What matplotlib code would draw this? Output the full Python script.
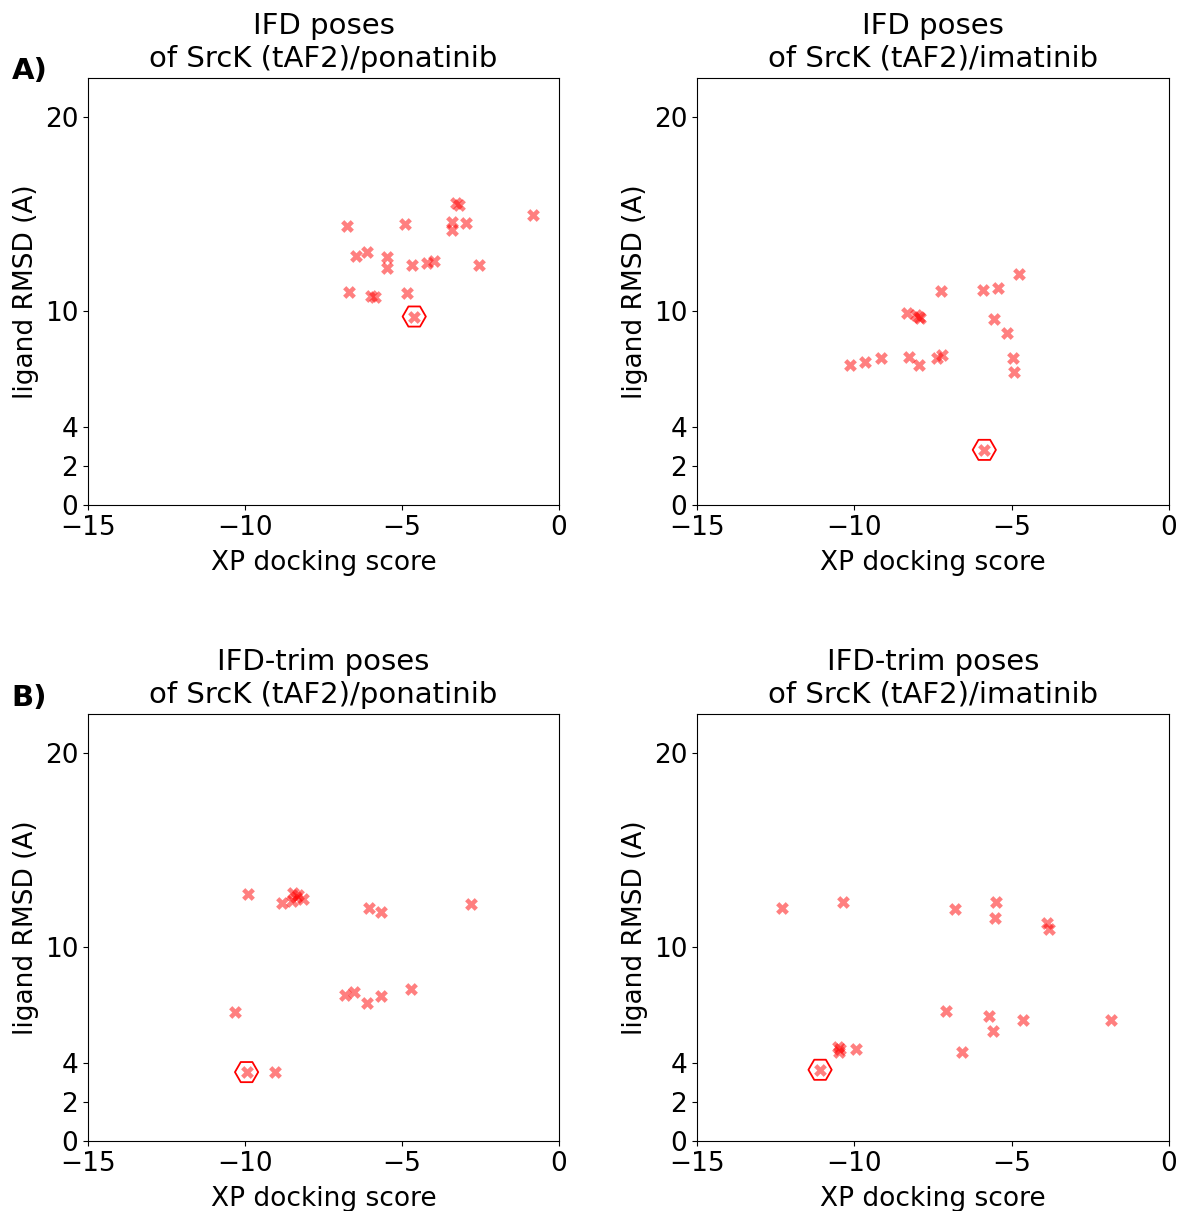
import numpy as np
import matplotlib
matplotlib.use("Agg")
import matplotlib.pyplot as plt

# ---------- Data ----------
# A) IFD poses, ponatinib
ifd_pon_x = [-6.76, -4.90, -3.27, -3.19, -3.42, -3.42, -2.96, -0.84, -6.47, -6.10,
             -5.47, -5.47, -4.69, -4.21, -3.97, -2.55, -6.68, -6.00, -5.86, -4.83]
ifd_pon_y = [14.35, 14.47, 15.55, 15.45, 14.60, 14.18, 14.52, 14.95, 12.84, 13.04,
             12.80, 12.20, 12.37, 12.49, 12.59, 12.35, 10.96, 10.77, 10.71, 10.91]
ifd_pon_best = (-4.61, 9.71)

# A) IFD poses, imatinib
ifd_ima_x = [-4.76, -7.25, -5.90, -5.44, -8.34, -8.05, -7.95, -7.90, -5.55, -5.16,
             -10.14, -9.66, -9.15, -8.26, -7.93, -7.38, -7.20, -4.95, -4.93]
ifd_ima_y = [11.91, 11.03, 11.08, 11.17, 9.91, 9.80, 9.70, 9.62, 9.59, 8.85,
             7.22, 7.36, 7.59, 7.65, 7.22, 7.56, 7.72, 7.56, 6.87]
ifd_ima_best = (-5.87, 2.84)

# B) IFD-trim poses, ponatinib
trim_pon_x = [-9.89, -8.81, -8.51, -8.48, -8.30, -8.14, -8.38, -6.04, -5.68, -2.81,
              -6.82, -6.52, -6.11, -5.67, -4.72, -10.32, -9.04]
trim_pon_y = [12.71, 12.28, 12.37, 12.76, 12.66, 12.49, 12.55, 12.03, 11.82, 12.21,
              7.51, 7.66, 7.10, 7.46, 7.84, 6.65, 3.57]
trim_pon_best = (-9.95, 3.55)

# B) IFD-trim poses, imatinib
trim_ima_x = [-12.31, -10.35, -6.80, -5.50, -5.53, -3.89, -3.83, -7.09, -5.71, -5.58,
              -4.65, -1.85, -6.59, -10.52, -10.45, -10.50, -9.95]
trim_ima_y = [12.03, 12.32, 11.97, 12.33, 11.47, 11.25, 10.90, 6.72, 6.42, 5.65,
              6.25, 6.25, 4.58, 4.85, 4.75, 4.60, 4.75]
trim_ima_best = (-11.09, 3.67)

panels = [
    ("IFD poses\nof SrcK (tAF2)/ponatinib", ifd_pon_x, ifd_pon_y, ifd_pon_best),
    ("IFD poses\nof SrcK (tAF2)/imatinib", ifd_ima_x, ifd_ima_y, ifd_ima_best),
    ("IFD-trim poses\nof SrcK (tAF2)/ponatinib", trim_pon_x, trim_pon_y, trim_pon_best),
    ("IFD-trim poses\nof SrcK (tAF2)/imatinib", trim_ima_x, trim_ima_y, trim_ima_best),
]

y_ticks = [0, 2, 4, 10, 20]
x_ticks = [-15, -10, -5, 0]

# ---------- Plot ----------
plt.rcParams['font.size'] = 19
fig = plt.figure(figsize=(11.8, 12.11), dpi=100)

rects = [
    [0.0746, 0.583, 0.3991, 0.3526],
    [0.5907, 0.583, 0.4000, 0.3526],
    [0.0746, 0.0578, 0.3991, 0.3526],
    [0.5907, 0.0578, 0.4000, 0.3526],
]

for rect, (title, xs, ys, best) in zip(rects, panels):
    ax = fig.add_axes(rect)
    ax.scatter(xs, ys, marker='X', s=85, color='red', alpha=0.5, linewidths=0)
    ax.scatter([best[0]], [best[1]], marker='X', s=85, color='red', alpha=0.5, linewidths=0)
    ax.scatter([best[0]], [best[1]], marker='H', s=280, facecolors='none',
               edgecolors='red', linewidths=1.3)
    ax.set_xlim(-15, 0)
    ax.set_ylim(0, 22)
    ax.set_xticks(x_ticks)
    ax.set_yticks(y_ticks)
    ax.tick_params(labelsize=19)
    ax.set_xlabel('XP docking score', fontsize=19, labelpad=7)
    ax.set_ylabel('ligand RMSD (A)', fontsize=19, labelpad=4)
    ax.set_title(title, fontsize=21, pad=8)

fig.text(0.010, 0.935, 'A)', fontsize=21, fontweight='bold')
fig.text(0.010, 0.417, 'B)', fontsize=21, fontweight='bold')

fig.savefig('out.png', dpi=100)
